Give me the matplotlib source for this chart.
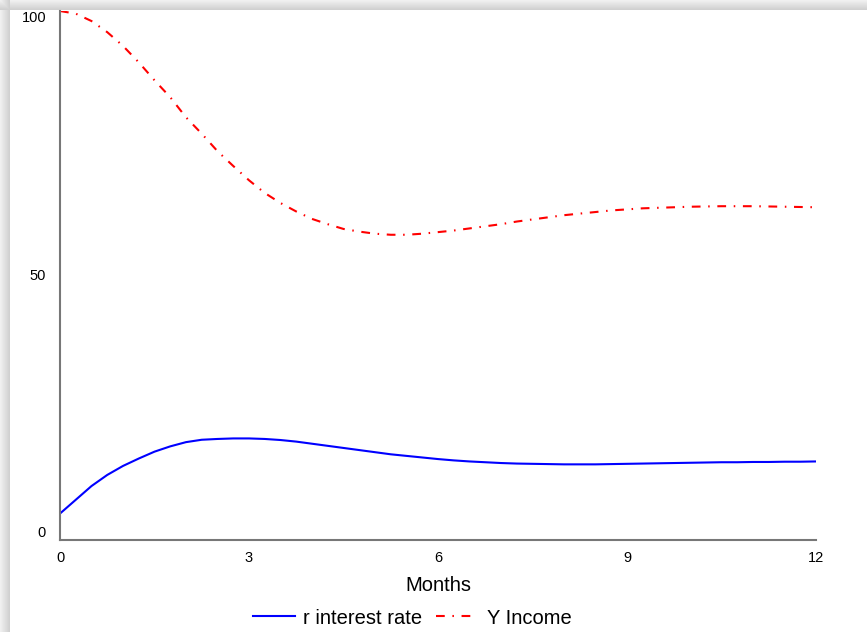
import numpy as np
import matplotlib
matplotlib.use("Agg")
import matplotlib.pyplot as plt
from matplotlib.lines import Line2D

plt.rcParams['font.family'] = ['Liberation Sans', 'DejaVu Sans']
plt.rcParams['lines.scale_dashes'] = False

# data, one value every quarter month
months = np.linspace(0, 12, 49)
r_rate = [5.0, 7.6, 10.2, 12.3, 14.0, 15.4, 16.7, 17.7, 18.5, 18.95, 19.1, 19.2,
          19.2, 19.1, 18.9, 18.6, 18.2, 17.8, 17.4, 17.0, 16.6, 16.2, 15.9, 15.6,
          15.3, 15.05, 14.85, 14.7, 14.55, 14.45, 14.4, 14.35, 14.3, 14.3, 14.3, 14.35,
          14.4, 14.45, 14.5, 14.55, 14.6, 14.65, 14.7, 14.7, 14.75, 14.75, 14.8, 14.8, 14.85]
y_income = [100, 99.5, 98.1, 96.0, 93.4, 90.3, 86.9, 83.7, 79.9, 76.8, 73.5, 70.7,
            68.0, 65.6, 63.7, 62.1, 60.7, 59.7, 58.8, 58.3, 57.9, 57.7, 57.7, 57.9,
            58.2, 58.5, 58.9, 59.3, 59.7, 60.2, 60.6, 61.0, 61.4, 61.7, 62.0, 62.3,
            62.5, 62.7, 62.8, 62.9, 63.0, 63.05, 63.1, 63.1, 63.1, 63.05, 63.0, 62.95, 62.9]
xticks = [0, 3, 6, 9, 12]
yticks = [0, 50, 100]

W, H = 867, 632
fig = plt.figure(figsize=(W / 100, H / 100), dpi=100)

# background: white panel with a soft grey shadow on top and left
bg = fig.add_axes([0, 0, 1, 1], zorder=-5)
edge = 10
yy, xx = np.mgrid[0:H, 0:W]
shade = np.where(yy < edge, 0.94 - 0.14 * (yy / edge), 1.0)
shade = np.minimum(shade, np.where(xx < edge, 0.94 - 0.14 * (xx / edge), 1.0))
bg.imshow(shade, cmap='gray', vmin=0, vmax=1, aspect='auto', interpolation='nearest')
bg.axis('off')

ax = fig.add_axes([60 / W, 1 - 540 / H, (816 - 60) / W, (540 - 11) / H])
ax.set_facecolor('none')

l1, = ax.plot(months, r_rate, color='#0000ff', lw=1.5, label='r interest rate')
l2, = ax.plot(months, y_income, color='#ff0000', lw=1.5,
              linestyle=(0, (6.3, 5.5, 1.1, 5.5)), label='Y Income')

ax.set_xlim(0, 12)
ax.set_ylim(0, 100)
ax.set_xticks(xticks)
ax.set_yticks(yticks)
ax.tick_params(length=0, labelsize=10.5, pad=8)
ax.tick_params(axis='y', pad=10)
for lab, va in zip(ax.get_yticklabels(), ['bottom', 'center', 'top']):
    lab.set_va(va)

for s in ['top', 'right']:
    ax.spines[s].set_visible(False)
for s in ['left', 'bottom']:
    ax.spines[s].set_color('#777777')
    ax.spines[s].set_linewidth(1.5)

ax.set_xlabel('Months', fontsize=14.5, labelpad=8)

# legend handle for Y shows dash - dot - dash like the original
y_handle = Line2D([], [], color='#ff0000', lw=1.5,
                  linestyle=(0, (6.3, 5.5, 1.1, 5.5, 6.3, 20)))
fig.legend(handles=[l1, y_handle], labels=['r interest rate', 'Y Income'],
           loc='center', bbox_to_anchor=(412 / W, 1 - 618 / H),
           ncol=2, frameon=False, fontsize=14.5, handlelength=2.1,
           handletextpad=0.4, columnspacing=0.7, borderpad=0, borderaxespad=0)

fig.savefig('out.png', dpi=100)
